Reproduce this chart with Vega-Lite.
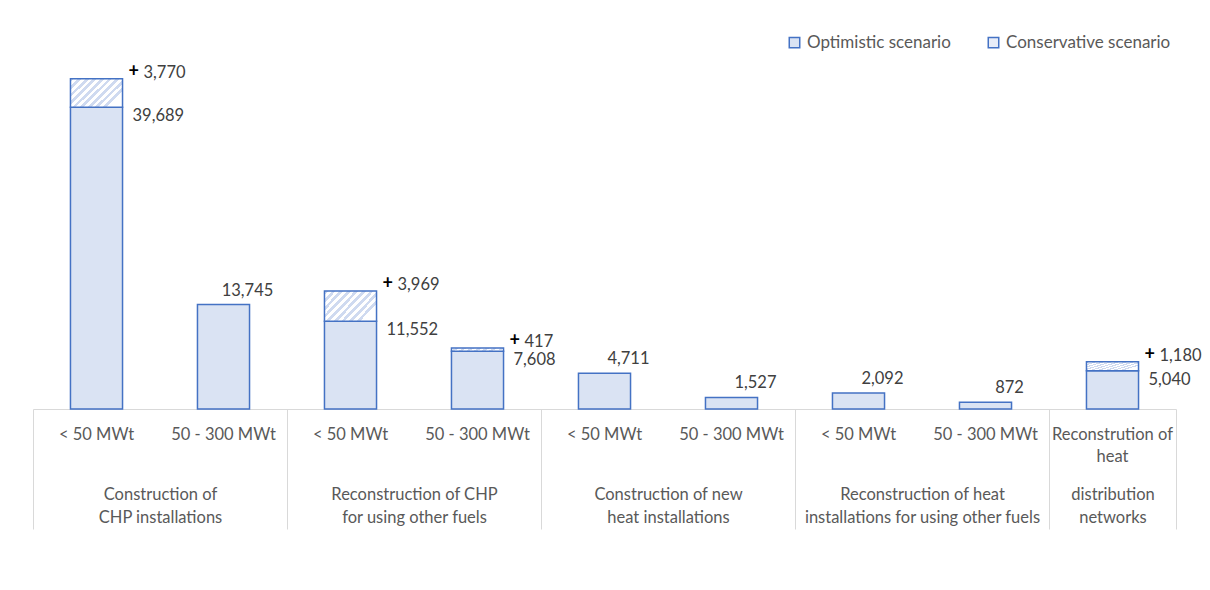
{
  "$schema": "https://vega.github.io/schema/vega-lite/v6.json",
  "width": 1143,
  "height": 380,
  "autosize": {"type": "none"},
  "padding": {"left": 33, "top": 29, "right": 34, "bottom": 181},
  "background": "white",
  "config": {
    "view": {"stroke": null},
    "font": "Lato",
    "text": {"font": "Lato", "fontSize": 16.5, "fill": "#404040"},
    "axis": {"labelFont": "Lato", "labelFontSize": 16.5, "labelColor": "#595959", "title": null, "grid": false, "labelAngle": 0, "labelLimit": 400, "labelOverlap": false, "labelBound": false, "labelFlush": false},
    "legend": {"labelFont": "Lato"}
  },
  "data": {
    "values": [
      {"id": "1|< 50 MWt", "base": 39689, "extra": 3770, "total": 43459},
      {"id": "2|50 - 300 MWt", "base": 13745, "extra": 0, "total": 13745},
      {"id": "3|< 50 MWt", "base": 11552, "extra": 3969, "total": 15521},
      {"id": "4|50 - 300 MWt", "base": 7608, "extra": 417, "total": 8025},
      {"id": "5|< 50 MWt", "base": 4711, "extra": 0, "total": 4711},
      {"id": "6|50 - 300 MWt", "base": 1527, "extra": 0, "total": 1527},
      {"id": "7|< 50 MWt", "base": 2092, "extra": 0, "total": 2092},
      {"id": "8|50 - 300 MWt", "base": 872, "extra": 0, "total": 872},
      {"id": "9|Reconstrution of~heat", "base": 5040, "extra": 1180, "total": 6220}
    ]
  },
  "resolve": {"axis": {"x": "independent"}},
  "layer": [
    {
      "mark": {"type": "bar", "stroke": "#4472c4", "strokeWidth": 1.5, "width": {"band": 0.41}},
      "encoding": {
        "x": {"field": "id", "type": "nominal", "sort": null,
              "scale": {"paddingInner": 0, "paddingOuter": 0},
              "axis": {"orient": "bottom", "domain": true, "domainColor": "#d9d9d9", "domainWidth": 1, "ticks": false, "labelPadding": 17, "labelLineHeight": 22,
                       "labelExpr": "split(split(datum.value, '|')[1], '~')"}},
        "y": {"field": "base", "type": "quantitative", "scale": {"domain": [0, 50000], "nice": false, "zero": true}, "axis": null},
        "fill": {"datum": "Optimistic scenario", "type": "nominal",
                 "scale": {"domain": ["Optimistic scenario", "Conservative scenario"], "range": ["#dae3f3", "#e8edf8"]},
                 "legend": {"orient": "top-right", "direction": "horizontal", "title": null, "symbolType": "square", "symbolSize": 110,
                            "symbolStrokeColor": "#4472c4", "symbolStrokeWidth": 1.5, "labelFontSize": 17, "labelColor": "#595959", "labelLimit": 400,
                            "columnPadding": 34, "labelOffset": 4, "offset": 5, "padding": 0}}
      }
    },
    {
      "transform": [{"filter": "datum.extra > 0"}],
      "mark": {"type": "bar", "stroke": "#4472c4", "strokeWidth": 1.5, "width": {"band": 0.41},
               "fill": {"gradient": "linear", "x1": 0, "y1": 0, "x2": 1, "y2": 0.56, "stops": [
                 {"offset": 0, "color": "#cfdaf0"}, {"offset": 0.0556, "color": "#cfdaf0"}, {"offset": 0.0556, "color": "#ffffff"}, {"offset": 0.1111, "color": "#ffffff"},
                 {"offset": 0.1111, "color": "#cfdaf0"}, {"offset": 0.1667, "color": "#cfdaf0"}, {"offset": 0.1667, "color": "#ffffff"}, {"offset": 0.2222, "color": "#ffffff"},
                 {"offset": 0.2222, "color": "#cfdaf0"}, {"offset": 0.2778, "color": "#cfdaf0"}, {"offset": 0.2778, "color": "#ffffff"}, {"offset": 0.3333, "color": "#ffffff"},
                 {"offset": 0.3333, "color": "#cfdaf0"}, {"offset": 0.3889, "color": "#cfdaf0"}, {"offset": 0.3889, "color": "#ffffff"}, {"offset": 0.4444, "color": "#ffffff"},
                 {"offset": 0.4444, "color": "#cfdaf0"}, {"offset": 0.5, "color": "#cfdaf0"}, {"offset": 0.5, "color": "#ffffff"}, {"offset": 0.5556, "color": "#ffffff"},
                 {"offset": 0.5556, "color": "#cfdaf0"}, {"offset": 0.6111, "color": "#cfdaf0"}, {"offset": 0.6111, "color": "#ffffff"}, {"offset": 0.6667, "color": "#ffffff"},
                 {"offset": 0.6667, "color": "#cfdaf0"}, {"offset": 0.7222, "color": "#cfdaf0"}, {"offset": 0.7222, "color": "#ffffff"}, {"offset": 0.7778, "color": "#ffffff"},
                 {"offset": 0.7778, "color": "#cfdaf0"}, {"offset": 0.8333, "color": "#cfdaf0"}, {"offset": 0.8333, "color": "#ffffff"}, {"offset": 0.8889, "color": "#ffffff"},
                 {"offset": 0.8889, "color": "#cfdaf0"}, {"offset": 0.9444, "color": "#cfdaf0"}, {"offset": 0.9444, "color": "#ffffff"}, {"offset": 1, "color": "#ffffff"}
               ]}},
      "encoding": {
        "x": {"field": "id", "type": "nominal", "sort": null,
              "axis": {"orient": "bottom", "domain": false, "ticks": true, "tickBand": "extent", "tickSize": 120, "tickWidth": 1,
                       "tickColor": {"condition": {"test": "datum.index < 0 || datum.extra || !isString(datum.value) || indexof(['2','4','6','8','9'], slice(datum.value, 0, 1)) >= 0", "value": "#d9d9d9"}, "value": "transparent"},
                       "labelPadding": -43, "labelLineHeight": 23,
                       "labelOffset": {"condition": {"test": "isString(datum.value) && slice(datum.value, 0, 1) == '9'", "value": 0}, "value": 63.5},
                       "labelExpr": "!isString(datum.value) ? '' : slice(datum.value,0,1)=='1' ? ['Construction of','CHP installations'] : slice(datum.value,0,1)=='3' ? ['Reconstruction of CHP','for using other fuels'] : slice(datum.value,0,1)=='5' ? ['Construction of new','heat installations'] : slice(datum.value,0,1)=='7' ? ['Reconstruction of heat','installations for using other fuels'] : slice(datum.value,0,1)=='9' ? ['distribution','networks'] : ''"}},
        "y": {"field": "base", "type": "quantitative", "axis": null},
        "y2": {"field": "total"}
      }
    },
    {
      "transform": [{"filter": "datum.extra > 0"}],
      "mark": {"type": "text", "align": "left", "baseline": "middle", "dx": 36, "dy": 9},
      "encoding": {
        "x": {"field": "id", "type": "nominal", "sort": null, "axis": null},
        "y": {"field": "base", "type": "quantitative", "axis": null},
        "text": {"field": "base", "type": "quantitative", "format": ","}
      }
    },
    {
      "transform": [{"filter": "datum.extra == 0"}],
      "mark": {"type": "text", "align": "center", "baseline": "middle", "dx": 24, "dy": -14},
      "encoding": {
        "x": {"field": "id", "type": "nominal", "sort": null, "axis": null},
        "y": {"field": "base", "type": "quantitative", "axis": null},
        "text": {"field": "base", "type": "quantitative", "format": ","}
      }
    },
    {
      "transform": [{"filter": "datum.extra > 0"}],
      "mark": {"type": "text", "align": "left", "baseline": "middle", "dx": 32, "dy": -7, "fontWeight": "bold", "fontSize": 18, "fill": "#000000", "text": "+"},
      "encoding": {
        "x": {"field": "id", "type": "nominal", "sort": null, "axis": null},
        "y": {"field": "total", "type": "quantitative", "axis": null}
      }
    },
    {
      "transform": [{"filter": "datum.extra > 0"}],
      "mark": {"type": "text", "align": "left", "baseline": "middle", "dx": 47, "dy": -6},
      "encoding": {
        "x": {"field": "id", "type": "nominal", "sort": null, "axis": null},
        "y": {"field": "total", "type": "quantitative", "axis": null},
        "text": {"field": "extra", "type": "quantitative", "format": ","}
      }
    }
  ]
}
